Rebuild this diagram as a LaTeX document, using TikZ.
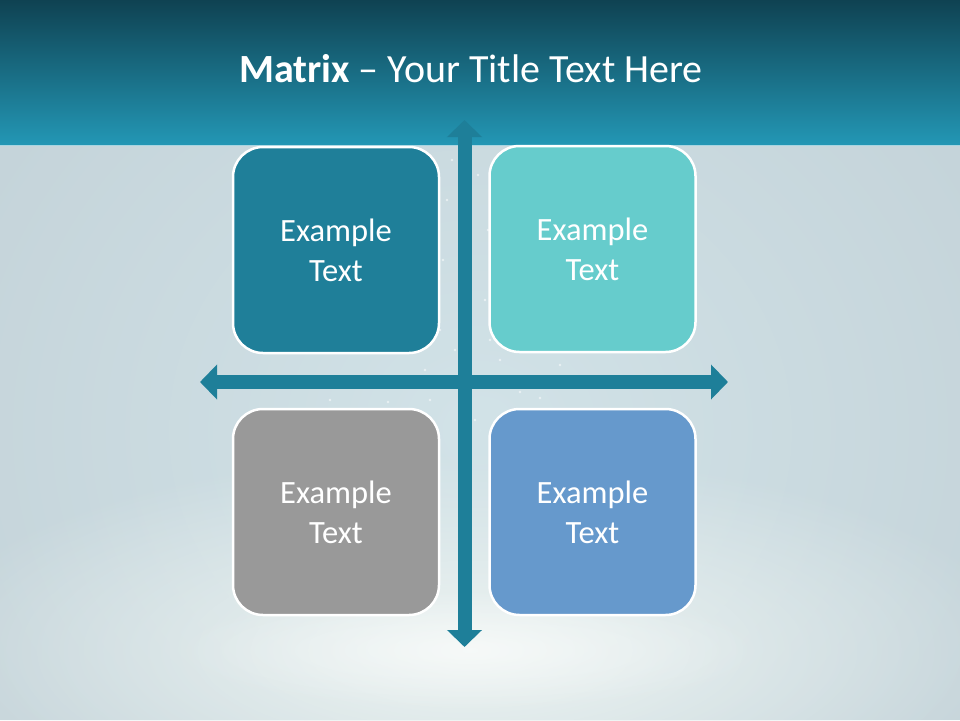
\documentclass[tikz,border=0pt]{standalone}
\usepackage{fontspec}
\setmainfont{Carlito}
\usetikzlibrary{arrows.meta,fadings}
\definecolor{hdtop}{HTML}{0F4252}
\definecolor{hdbot}{HTML}{2397B5}
\definecolor{bgc}{HTML}{C4D3D9}
\definecolor{bgl}{HTML}{D2E3E8}
\definecolor{glow}{HTML}{F2F7F4}
\definecolor{axc}{HTML}{1E7F99}
\definecolor{cTL}{HTML}{1F7F99}
\definecolor{cTR}{HTML}{66CCCC}
\definecolor{cBL}{HTML}{999999}
\definecolor{cBR}{HTML}{6699CC}
\tikzfading[name=softfade, inner color=transparent!0, outer color=transparent!100]
\tikzset{
  quad/.style={draw=white, line width=2.5pt, rounded corners=30pt,
    minimum width=206pt, minimum height=206pt, inner sep=0pt,
    text=white, align=center, font=\fontsize{32.5}{40}\selectfont},
  axis/.style={draw=axc, line width=14pt,
    {Triangle[width=34pt,length=17pt]}-{Triangle[width=34pt,length=17pt]}},
  spark/.style={fill=white, opacity=0.55}
}
\begin{document}
\begin{tikzpicture}[x=1pt,y=-1pt]
\useasboundingbox (0,0) rectangle (960,720);
% background
\fill[bgc] (0,0) rectangle (960,720);
\fill[bgl, path fading=softfade] (480,430) ellipse (620 and 560);
\fill[glow, path fading=softfade, opacity=0.9] (470,650) ellipse (560 and 200);
\fill[white, path fading=softfade, opacity=0.5] (470,650) ellipse (300 and 60);
% header
\shade[top color=hdtop, bottom color=hdbot] (0,0) rectangle (960,145);
\draw[color=hdbot!40!white, line width=1.5pt] (0,145.5) -- (960,145.5);
\node[text=white, font=\fontsize{40}{46}\selectfont, anchor=base] (title) at (471,82)
  {\textbf{Matrix} – Your Title Text Here};
% sparkles
\foreach \p in {(452,160),(447,200),(478,175),(485,300),(440,330),(455,350),(500,360),(430,400),(412,410),(388,402),(520,392),(540,398),(600,378),(330,400),(475,420),(488,230),(443,260),(490,340),(425,370),(560,365)}
  \fill[spark] \p circle (1.3);
% axes
\coordinate (vt) at (464.5,120);
\coordinate (vb) at (464.5,647);
\coordinate (hl) at (200,382);
\coordinate (hr) at (728,382);
\draw[axis] (hl) -- (hr);
\draw[axis] (vt) -- (vb);
% quadrants
\node[quad, fill=cTL] (tl) at (336,250) {Example\\Text};
\node[quad, fill=cTR] (tr) at (592.5,249) {Example\\Text};
\node[quad, fill=cBL] (bl) at (336,512) {Example\\Text};
\node[quad, fill=cBR] (br) at (592.5,512) {Example\\Text};
\end{tikzpicture}
\end{document}
